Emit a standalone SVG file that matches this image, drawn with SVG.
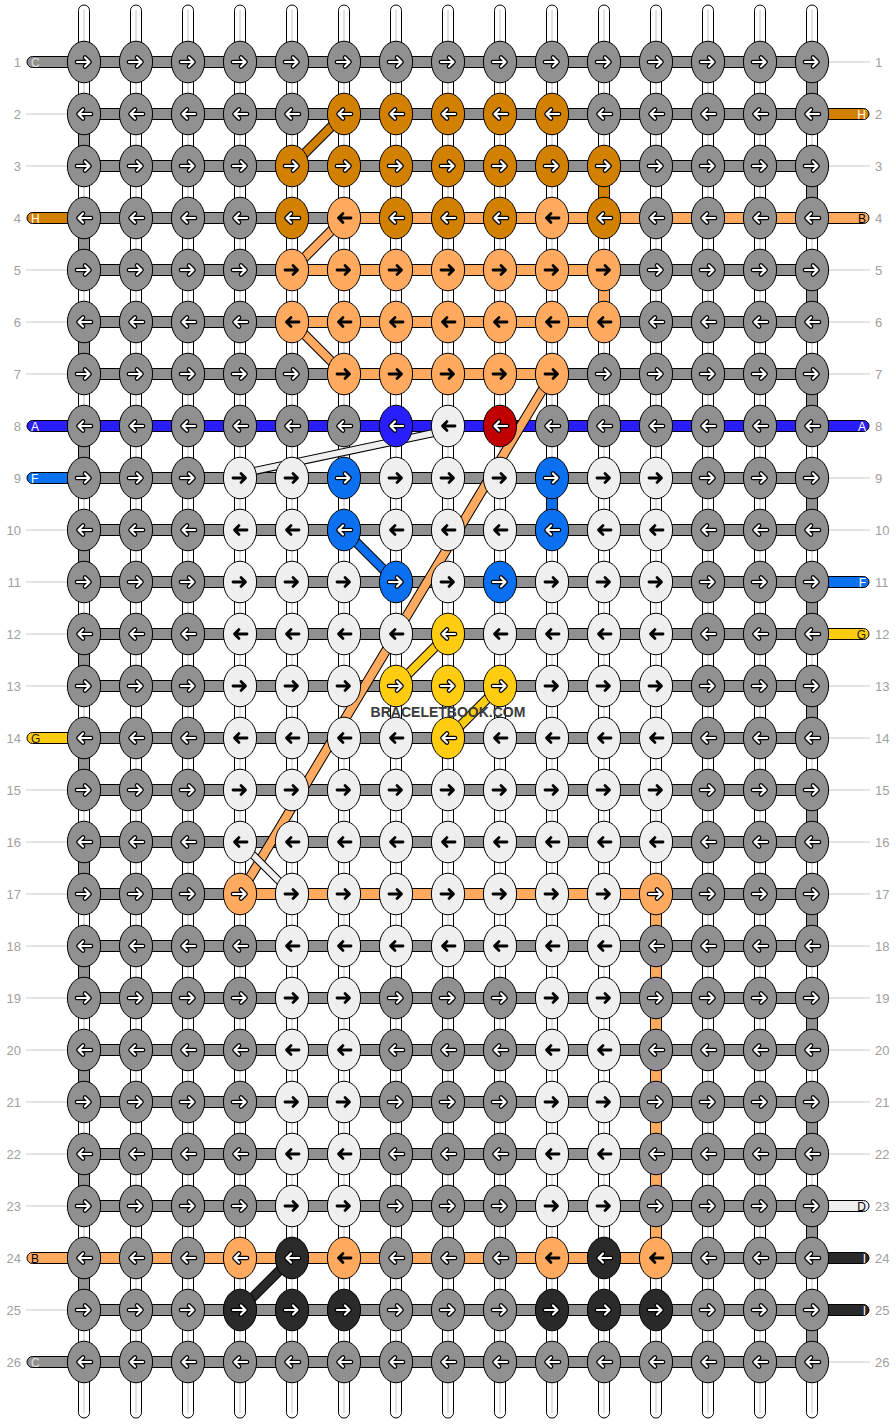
<svg xmlns="http://www.w3.org/2000/svg" xmlns:xlink="http://www.w3.org/1999/xlink" width="896" height="1424" viewBox="0 0 896 1424">
<style>
.ws{fill:#fff;stroke:#000;stroke-width:1}
.wc{stroke:#c4c4c4;stroke-width:1;fill:none}
.br{stroke:#000;stroke-width:1}
.cg{fill:#909090}.co{fill:#d28000}.cl{fill:#ffaa5f}.cA{fill:#281eff}.cF{fill:#0a70f0}.cR{fill:#c00000}.cY{fill:#ffcc10}.cw{fill:#efefef}.ck{fill:#2a2a2a}
.tl{stroke:#c8c8c8;stroke-width:1}
.num{font-family:"Liberation Sans",Arial,sans-serif;font-size:13px;fill:#a0a0a0}
.lab{font-family:"Liberation Sans",Arial,sans-serif;font-size:12px}
.d1{stroke:#000;stroke-width:10;fill:none}
.d2{stroke-width:8;fill:none}
.e1{stroke:#000;stroke-width:8;fill:none}
.e2{stroke-width:6;fill:none}
</style>
<defs>
<path id="pR" d="M-7,0H5.5M1,-4.5L5.5,0L1,4.5"/>
<path id="pL" d="M7,0H-5.5M-1,-4.5L-5.5,0L-1,4.5"/>
<g id="aRw" fill="none" stroke-linecap="round" stroke-linejoin="round"><use href="#pR" stroke="#000" stroke-width="4.6"/><use href="#pR" stroke="#fff" stroke-width="2.2"/></g>
<g id="aLw" fill="none" stroke-linecap="round" stroke-linejoin="round"><use href="#pL" stroke="#000" stroke-width="4.6"/><use href="#pL" stroke="#fff" stroke-width="2.2"/></g>
<g id="aRb" fill="none" stroke="#000" stroke-width="2.8" stroke-linecap="round" stroke-linejoin="round"><use href="#pR"/></g>
<g id="aLb" fill="none" stroke="#000" stroke-width="2.8" stroke-linecap="round" stroke-linejoin="round"><use href="#pL"/></g>
<ellipse id="eg" rx="16.6" ry="20.8" fill="#909090" stroke="#000"/>
<ellipse id="eo" rx="16.6" ry="20.8" fill="#d28000" stroke="#000"/>
<ellipse id="el" rx="16.6" ry="20.8" fill="#ffaa5f" stroke="#000"/>
<ellipse id="eA" rx="16.6" ry="20.8" fill="#281eff" stroke="#000"/>
<ellipse id="eF" rx="16.6" ry="20.8" fill="#0a70f0" stroke="#000"/>
<ellipse id="eR" rx="16.6" ry="20.8" fill="#c00000" stroke="#000"/>
<ellipse id="eY" rx="16.6" ry="20.8" fill="#ffcc10" stroke="#000"/>
<ellipse id="ew" rx="16.6" ry="20.8" fill="#efefef" stroke="#000"/>
<ellipse id="ek" rx="16.6" ry="20.8" fill="#2a2a2a" stroke="#000"/>
<g id="gR"><use href="#eg"/><use href="#aRw"/></g>
<g id="gL"><use href="#eg"/><use href="#aLw"/></g>
<g id="oR"><use href="#eo"/><use href="#aRw"/></g>
<g id="oL"><use href="#eo"/><use href="#aLw"/></g>
<g id="lR"><use href="#el"/><use href="#aRb"/></g>
<g id="lL"><use href="#el"/><use href="#aLb"/></g>
<g id="lRw"><use href="#el"/><use href="#aRw"/></g>
<g id="lLw"><use href="#el"/><use href="#aLw"/></g>
<g id="AL"><use href="#eA"/><use href="#aLw"/></g>
<g id="RL"><use href="#eR"/><use href="#aLw"/></g>
<g id="FR"><use href="#eF"/><use href="#aRw"/></g>
<g id="FL"><use href="#eF"/><use href="#aLw"/></g>
<g id="YR"><use href="#eY"/><use href="#aRw"/></g>
<g id="YL"><use href="#eY"/><use href="#aLw"/></g>
<g id="wR"><use href="#ew"/><use href="#aRb"/></g>
<g id="wL"><use href="#ew"/><use href="#aLb"/></g>
<g id="kR"><use href="#ek"/><use href="#aRw"/></g>
<g id="kL"><use href="#ek"/><use href="#aLw"/></g>
</defs>
<rect width="896" height="1424" fill="#fff"/>

<g id="labels">
<g class="num" text-anchor="end">
<text x="21" y="66.5">1</text><text x="21" y="118.5">2</text><text x="21" y="170.5">3</text><text x="21" y="222.5">4</text><text x="21" y="274.5">5</text><text x="21" y="326.5">6</text><text x="21" y="378.5">7</text><text x="21" y="430.5">8</text><text x="21" y="482.5">9</text><text x="21" y="534.5">10</text><text x="21" y="586.5">11</text><text x="21" y="638.5">12</text><text x="21" y="690.5">13</text><text x="21" y="742.5">14</text><text x="21" y="794.5">15</text><text x="21" y="846.5">16</text><text x="21" y="898.5">17</text><text x="21" y="950.5">18</text><text x="21" y="1002.5">19</text><text x="21" y="1054.5">20</text><text x="21" y="1106.5">21</text><text x="21" y="1158.5">22</text><text x="21" y="1210.5">23</text><text x="21" y="1262.5">24</text><text x="21" y="1314.5">25</text><text x="21" y="1366.5">26</text>
</g>
<g class="num">
<text x="875" y="66.5">1</text><text x="875" y="118.5">2</text><text x="875" y="170.5">3</text><text x="875" y="222.5">4</text><text x="875" y="274.5">5</text><text x="875" y="326.5">6</text><text x="875" y="378.5">7</text><text x="875" y="430.5">8</text><text x="875" y="482.5">9</text><text x="875" y="534.5">10</text><text x="875" y="586.5">11</text><text x="875" y="638.5">12</text><text x="875" y="690.5">13</text><text x="875" y="742.5">14</text><text x="875" y="794.5">15</text><text x="875" y="846.5">16</text><text x="875" y="898.5">17</text><text x="875" y="950.5">18</text><text x="875" y="1002.5">19</text><text x="875" y="1054.5">20</text><text x="875" y="1106.5">21</text><text x="875" y="1158.5">22</text><text x="875" y="1210.5">23</text><text x="875" y="1262.5">24</text><text x="875" y="1314.5">25</text><text x="875" y="1366.5">26</text>
</g>
<path class="tl" d="M26,114H67M26,166H67M26,270H67M26,322H67M26,374H67M26,530H67M26,582H67M26,634H67M26,686H67M26,790H67M26,842H67M26,894H67M26,946H67M26,998H67M26,1050H67M26,1102H67M26,1154H67M26,1206H67M26,1310H67"/>
<path class="tl" d="M829,62H870M829,166H870M829,270H870M829,322H870M829,374H870M829,478H870M829,530H870M829,686H870M829,738H870M829,790H870M829,842H870M829,894H870M829,946H870M829,998H870M829,1050H870M829,1102H870M829,1154H870M829,1362H870"/>
</g>

<g id="connectors">
<g id="warp">
<rect class="ws" x="78.5" y="5" width="11" height="1413" rx="5.5"/><rect class="ws" x="130.5" y="5" width="11" height="1413" rx="5.5"/><rect class="ws" x="182.5" y="5" width="11" height="1413" rx="5.5"/><rect class="ws" x="234.5" y="5" width="11" height="1413" rx="5.5"/><rect class="ws" x="286.5" y="5" width="11" height="1413" rx="5.5"/><rect class="ws" x="338.5" y="5" width="11" height="1413" rx="5.5"/><rect class="ws" x="390.5" y="5" width="11" height="1413" rx="5.5"/><rect class="ws" x="442.5" y="5" width="11" height="1413" rx="5.5"/><rect class="ws" x="494.5" y="5" width="11" height="1413" rx="5.5"/><rect class="ws" x="546.5" y="5" width="11" height="1413" rx="5.5"/><rect class="ws" x="598.5" y="5" width="11" height="1413" rx="5.5"/><rect class="ws" x="650.5" y="5" width="11" height="1413" rx="5.5"/><rect class="ws" x="702.5" y="5" width="11" height="1413" rx="5.5"/><rect class="ws" x="754.5" y="5" width="11" height="1413" rx="5.5"/><rect class="ws" x="806.5" y="5" width="11" height="1413" rx="5.5"/>
<path class="wc" d="M84,10V1413M136,10V1413M188,10V1413M240,10V1413M292,10V1413M344,10V1413M396,10V1413M448,10V1413M500,10V1413M552,10V1413M604,10V1413M656,10V1413M708,10V1413M760,10V1413M812,10V1413"/>
</g>
<g id="verticals" class="br">
<path class="cg" d="M78.5,114h11v52h-11zM78.5,218h11v52h-11zM78.5,322h11v52h-11zM78.5,426h11v52h-11zM78.5,530h11v52h-11zM78.5,634h11v52h-11zM78.5,738h11v52h-11zM78.5,842h11v52h-11zM78.5,946h11v52h-11zM78.5,1050h11v52h-11zM78.5,1154h11v52h-11zM78.5,1258h11v52h-11z"/>
<path class="cg" d="M806.5,62h11v52h-11zM806.5,166h11v52h-11zM806.5,270h11v52h-11zM806.5,374h11v52h-11zM806.5,478h11v52h-11zM806.5,582h11v52h-11zM806.5,686h11v52h-11zM806.5,790h11v52h-11zM806.5,894h11v52h-11zM806.5,998h11v52h-11zM806.5,1102h11v52h-11zM806.5,1206h11v52h-11zM806.5,1310h11v52h-11z"/>
<rect class="co" x="598.5" y="166" width="11" height="52"/>
<rect class="cl" x="598.5" y="270" width="11" height="52"/>
<rect class="cF" x="546.5" y="478" width="11" height="52"/>
<rect class="cl" x="650.5" y="894" width="11" height="364"/>
</g>
<g id="bars" class="br">
<rect class="cg" x="84" y="56.5" width="728" height="11"/><rect class="cg" x="84" y="108.5" width="728" height="11"/><rect class="cg" x="84" y="160.5" width="728" height="11"/><rect class="cg" x="84" y="212.5" width="728" height="11"/><rect class="cg" x="84" y="264.5" width="728" height="11"/><rect class="cg" x="84" y="316.5" width="728" height="11"/><rect class="cg" x="84" y="368.5" width="728" height="11"/><rect class="cA" x="84" y="420.5" width="728" height="11"/><rect class="cg" x="84" y="472.5" width="728" height="11"/><rect class="cg" x="84" y="524.5" width="728" height="11"/><rect class="cg" x="84" y="576.5" width="728" height="11"/><rect class="cg" x="84" y="628.5" width="728" height="11"/><rect class="cg" x="84" y="680.5" width="728" height="11"/><rect class="cg" x="84" y="732.5" width="728" height="11"/><rect class="cg" x="84" y="784.5" width="728" height="11"/><rect class="cg" x="84" y="836.5" width="728" height="11"/><rect class="cg" x="84" y="888.5" width="728" height="11"/><rect class="cg" x="84" y="940.5" width="728" height="11"/><rect class="cg" x="84" y="992.5" width="728" height="11"/><rect class="cg" x="84" y="1044.5" width="728" height="11"/><rect class="cg" x="84" y="1096.5" width="728" height="11"/><rect class="cg" x="84" y="1148.5" width="728" height="11"/><rect class="cg" x="84" y="1200.5" width="728" height="11"/><rect class="cg" x="84" y="1252.5" width="728" height="11"/><rect class="cg" x="84" y="1304.5" width="728" height="11"/><rect class="cg" x="84" y="1356.5" width="728" height="11"/>
<rect class="cl" x="344" y="212.5" width="468" height="11"/>
<rect class="cl" x="292" y="264.5" width="312" height="11"/>
<rect class="cl" x="292" y="316.5" width="312" height="11"/>
<rect class="cl" x="344" y="368.5" width="208" height="11"/>
<rect class="cl" x="240" y="888.5" width="416" height="11"/>
<rect class="cl" x="84" y="1252.5" width="572" height="11"/>
</g>
<g id="ends" class="br">
<rect class="cg" x="27" y="56.5" width="60" height="11" rx="5.5"/>
<rect class="co" x="27" y="212.5" width="60" height="11" rx="5.5"/>
<rect class="cA" x="27" y="420.5" width="60" height="11" rx="5.5"/>
<rect class="cF" x="27" y="472.5" width="60" height="11" rx="5.5"/>
<rect class="cY" x="27" y="732.5" width="60" height="11" rx="5.5"/>
<rect class="cl" x="27" y="1252.5" width="60" height="11" rx="5.5"/>
<rect class="cg" x="27" y="1356.5" width="60" height="11" rx="5.5"/>
<rect class="co" x="809" y="108.5" width="60" height="11" rx="5.5"/>
<rect class="cl" x="809" y="212.5" width="60" height="11" rx="5.5"/>
<rect class="cA" x="809" y="420.5" width="60" height="11" rx="5.5"/>
<rect class="cF" x="809" y="576.5" width="60" height="11" rx="5.5"/>
<rect class="cY" x="809" y="628.5" width="60" height="11" rx="5.5"/>
<rect class="cw" x="809" y="1200.5" width="60" height="11" rx="5.5"/>
<rect class="ck" x="809" y="1252.5" width="60" height="11" rx="5.5"/>
<rect class="ck" x="809" y="1304.5" width="60" height="11" rx="5.5"/>
</g>
<g id="diagonals">
<path class="d1" d="M344,114L292,166M344,218L292,270M292,322L344,374M552,374L240,894M344,530L396,582M448,634L396,686M500,686L448,738M292,1258L240,1310"/>
<path class="d2" stroke="#d28000" d="M344,114L292,166"/>
<path class="d2" stroke="#ffaa5f" d="M344,218L292,270M292,322L344,374M552,374L240,894"/>
<path class="d2" stroke="#0a70f0" d="M344,530L396,582"/>
<path class="d2" stroke="#ffcc10" d="M448,634L396,686M500,686L448,738"/>
<path class="d2" stroke="#2a2a2a" d="M292,1258L240,1310"/>
<path class="e1" d="M448,430L240,474M240,842L292,894"/>
<path class="e2" stroke="#efefef" d="M448,430L240,474M240,842L292,894"/>
</g>
<g id="endlabels" class="lab">
<text x="31" y="66.5" fill="#e0e0e0">C</text>
<text x="31" y="222.5" fill="#fff">H</text>
<text x="31" y="430.5" fill="#fff">A</text>
<text x="31" y="482.5" fill="#fff">F</text>
<text x="31" y="742.5" fill="#222">G</text>
<text x="31" y="1262.5" fill="#000">B</text>
<text x="31" y="1366.5" fill="#e0e0e0">C</text>
<g text-anchor="end">
<text x="866" y="118.5" fill="#fff">H</text>
<text x="866" y="222.5" fill="#000">B</text>
<text x="866" y="430.5" fill="#fff">A</text>
<text x="866" y="586.5" fill="#fff">F</text>
<text x="866" y="638.5" fill="#222">G</text>
<text x="866" y="1210.5" fill="#000">D</text>
<text x="866" y="1262.5" fill="#fff">I</text>
<text x="866" y="1314.5" fill="#fff">I</text>
</g>
</g>
</g>

<g id="knots">
<g id="row1" transform="translate(0,62)">
<g id="n1-0"><use href="#gR" x="84"/></g><g id="n1-1"><use href="#gR" x="136"/></g><g id="n1-2"><use href="#gR" x="188"/></g><g id="n1-3"><use href="#gR" x="240"/></g><g id="n1-4"><use href="#gR" x="292"/></g><g id="n1-5"><use href="#gR" x="344"/></g><g id="n1-6"><use href="#gR" x="396"/></g><g id="n1-7"><use href="#gR" x="448"/></g><g id="n1-8"><use href="#gR" x="500"/></g><g id="n1-9"><use href="#gR" x="552"/></g><g id="n1-10"><use href="#gR" x="604"/></g><g id="n1-11"><use href="#gR" x="656"/></g><g id="n1-12"><use href="#gR" x="708"/></g><g id="n1-13"><use href="#gR" x="760"/></g><g id="n1-14"><use href="#gR" x="812"/></g>
</g>
<g id="row2" transform="translate(0,114)">
<g id="n2-0"><use href="#gL" x="84"/></g><g id="n2-1"><use href="#gL" x="136"/></g><g id="n2-2"><use href="#gL" x="188"/></g><g id="n2-3"><use href="#gL" x="240"/></g><g id="n2-4"><use href="#gL" x="292"/></g><g id="n2-5"><use href="#oL" x="344"/></g><g id="n2-6"><use href="#oL" x="396"/></g><g id="n2-7"><use href="#oL" x="448"/></g><g id="n2-8"><use href="#oL" x="500"/></g><g id="n2-9"><use href="#oL" x="552"/></g><g id="n2-10"><use href="#gL" x="604"/></g><g id="n2-11"><use href="#gL" x="656"/></g><g id="n2-12"><use href="#gL" x="708"/></g><g id="n2-13"><use href="#gL" x="760"/></g><g id="n2-14"><use href="#gL" x="812"/></g>
</g>
<g id="row3" transform="translate(0,166)">
<g id="n3-0"><use href="#gR" x="84"/></g><g id="n3-1"><use href="#gR" x="136"/></g><g id="n3-2"><use href="#gR" x="188"/></g><g id="n3-3"><use href="#gR" x="240"/></g><g id="n3-4"><use href="#oR" x="292"/></g><g id="n3-5"><use href="#oR" x="344"/></g><g id="n3-6"><use href="#oR" x="396"/></g><g id="n3-7"><use href="#oR" x="448"/></g><g id="n3-8"><use href="#oR" x="500"/></g><g id="n3-9"><use href="#oR" x="552"/></g><g id="n3-10"><use href="#oR" x="604"/></g><g id="n3-11"><use href="#gR" x="656"/></g><g id="n3-12"><use href="#gR" x="708"/></g><g id="n3-13"><use href="#gR" x="760"/></g><g id="n3-14"><use href="#gR" x="812"/></g>
</g>
<g id="row4" transform="translate(0,218)">
<g id="n4-0"><use href="#gL" x="84"/></g><g id="n4-1"><use href="#gL" x="136"/></g><g id="n4-2"><use href="#gL" x="188"/></g><g id="n4-3"><use href="#gL" x="240"/></g><g id="n4-4"><use href="#oL" x="292"/></g><g id="n4-5"><use href="#lL" x="344"/></g><g id="n4-6"><use href="#oL" x="396"/></g><g id="n4-7"><use href="#oL" x="448"/></g><g id="n4-8"><use href="#oL" x="500"/></g><g id="n4-9"><use href="#lL" x="552"/></g><g id="n4-10"><use href="#oL" x="604"/></g><g id="n4-11"><use href="#gL" x="656"/></g><g id="n4-12"><use href="#gL" x="708"/></g><g id="n4-13"><use href="#gL" x="760"/></g><g id="n4-14"><use href="#gL" x="812"/></g>
</g>
<g id="row5" transform="translate(0,270)">
<g id="n5-0"><use href="#gR" x="84"/></g><g id="n5-1"><use href="#gR" x="136"/></g><g id="n5-2"><use href="#gR" x="188"/></g><g id="n5-3"><use href="#gR" x="240"/></g><g id="n5-4"><use href="#lR" x="292"/></g><g id="n5-5"><use href="#lR" x="344"/></g><g id="n5-6"><use href="#lR" x="396"/></g><g id="n5-7"><use href="#lR" x="448"/></g><g id="n5-8"><use href="#lR" x="500"/></g><g id="n5-9"><use href="#lR" x="552"/></g><g id="n5-10"><use href="#lR" x="604"/></g><g id="n5-11"><use href="#gR" x="656"/></g><g id="n5-12"><use href="#gR" x="708"/></g><g id="n5-13"><use href="#gR" x="760"/></g><g id="n5-14"><use href="#gR" x="812"/></g>
</g>
<g id="row6" transform="translate(0,322)">
<g id="n6-0"><use href="#gL" x="84"/></g><g id="n6-1"><use href="#gL" x="136"/></g><g id="n6-2"><use href="#gL" x="188"/></g><g id="n6-3"><use href="#gL" x="240"/></g><g id="n6-4"><use href="#lL" x="292"/></g><g id="n6-5"><use href="#lL" x="344"/></g><g id="n6-6"><use href="#lL" x="396"/></g><g id="n6-7"><use href="#lL" x="448"/></g><g id="n6-8"><use href="#lL" x="500"/></g><g id="n6-9"><use href="#lL" x="552"/></g><g id="n6-10"><use href="#lL" x="604"/></g><g id="n6-11"><use href="#gL" x="656"/></g><g id="n6-12"><use href="#gL" x="708"/></g><g id="n6-13"><use href="#gL" x="760"/></g><g id="n6-14"><use href="#gL" x="812"/></g>
</g>
<g id="row7" transform="translate(0,374)">
<g id="n7-0"><use href="#gR" x="84"/></g><g id="n7-1"><use href="#gR" x="136"/></g><g id="n7-2"><use href="#gR" x="188"/></g><g id="n7-3"><use href="#gR" x="240"/></g><g id="n7-4"><use href="#gR" x="292"/></g><g id="n7-5"><use href="#lR" x="344"/></g><g id="n7-6"><use href="#lR" x="396"/></g><g id="n7-7"><use href="#lR" x="448"/></g><g id="n7-8"><use href="#lR" x="500"/></g><g id="n7-9"><use href="#lR" x="552"/></g><g id="n7-10"><use href="#gR" x="604"/></g><g id="n7-11"><use href="#gR" x="656"/></g><g id="n7-12"><use href="#gR" x="708"/></g><g id="n7-13"><use href="#gR" x="760"/></g><g id="n7-14"><use href="#gR" x="812"/></g>
</g>
<g id="row8" transform="translate(0,426)">
<g id="n8-0"><use href="#gL" x="84"/></g><g id="n8-1"><use href="#gL" x="136"/></g><g id="n8-2"><use href="#gL" x="188"/></g><g id="n8-3"><use href="#gL" x="240"/></g><g id="n8-4"><use href="#gL" x="292"/></g><g id="n8-5"><use href="#gL" x="344"/></g><g id="n8-6"><use href="#AL" x="396"/></g><g id="n8-7"><use href="#wL" x="448"/></g><g id="n8-8"><use href="#RL" x="500"/></g><g id="n8-9"><use href="#gL" x="552"/></g><g id="n8-10"><use href="#gL" x="604"/></g><g id="n8-11"><use href="#gL" x="656"/></g><g id="n8-12"><use href="#gL" x="708"/></g><g id="n8-13"><use href="#gL" x="760"/></g><g id="n8-14"><use href="#gL" x="812"/></g>
</g>
<g id="row9" transform="translate(0,478)">
<g id="n9-0"><use href="#gR" x="84"/></g><g id="n9-1"><use href="#gR" x="136"/></g><g id="n9-2"><use href="#gR" x="188"/></g><g id="n9-3"><use href="#wR" x="240"/></g><g id="n9-4"><use href="#wR" x="292"/></g><g id="n9-5"><use href="#FR" x="344"/></g><g id="n9-6"><use href="#wR" x="396"/></g><g id="n9-7"><use href="#wR" x="448"/></g><g id="n9-8"><use href="#wR" x="500"/></g><g id="n9-9"><use href="#FR" x="552"/></g><g id="n9-10"><use href="#wR" x="604"/></g><g id="n9-11"><use href="#wR" x="656"/></g><g id="n9-12"><use href="#gR" x="708"/></g><g id="n9-13"><use href="#gR" x="760"/></g><g id="n9-14"><use href="#gR" x="812"/></g>
</g>
<g id="row10" transform="translate(0,530)">
<g id="n10-0"><use href="#gL" x="84"/></g><g id="n10-1"><use href="#gL" x="136"/></g><g id="n10-2"><use href="#gL" x="188"/></g><g id="n10-3"><use href="#wL" x="240"/></g><g id="n10-4"><use href="#wL" x="292"/></g><g id="n10-5"><use href="#FL" x="344"/></g><g id="n10-6"><use href="#wL" x="396"/></g><g id="n10-7"><use href="#wL" x="448"/></g><g id="n10-8"><use href="#wL" x="500"/></g><g id="n10-9"><use href="#FL" x="552"/></g><g id="n10-10"><use href="#wL" x="604"/></g><g id="n10-11"><use href="#wL" x="656"/></g><g id="n10-12"><use href="#gL" x="708"/></g><g id="n10-13"><use href="#gL" x="760"/></g><g id="n10-14"><use href="#gL" x="812"/></g>
</g>
<g id="row11" transform="translate(0,582)">
<g id="n11-0"><use href="#gR" x="84"/></g><g id="n11-1"><use href="#gR" x="136"/></g><g id="n11-2"><use href="#gR" x="188"/></g><g id="n11-3"><use href="#wR" x="240"/></g><g id="n11-4"><use href="#wR" x="292"/></g><g id="n11-5"><use href="#wR" x="344"/></g><g id="n11-6"><use href="#FR" x="396"/></g><g id="n11-7"><use href="#wR" x="448"/></g><g id="n11-8"><use href="#FR" x="500"/></g><g id="n11-9"><use href="#wR" x="552"/></g><g id="n11-10"><use href="#wR" x="604"/></g><g id="n11-11"><use href="#wR" x="656"/></g><g id="n11-12"><use href="#gR" x="708"/></g><g id="n11-13"><use href="#gR" x="760"/></g><g id="n11-14"><use href="#gR" x="812"/></g>
</g>
<g id="row12" transform="translate(0,634)">
<g id="n12-0"><use href="#gL" x="84"/></g><g id="n12-1"><use href="#gL" x="136"/></g><g id="n12-2"><use href="#gL" x="188"/></g><g id="n12-3"><use href="#wL" x="240"/></g><g id="n12-4"><use href="#wL" x="292"/></g><g id="n12-5"><use href="#wL" x="344"/></g><g id="n12-6"><use href="#wL" x="396"/></g><g id="n12-7"><use href="#YL" x="448"/></g><g id="n12-8"><use href="#wL" x="500"/></g><g id="n12-9"><use href="#wL" x="552"/></g><g id="n12-10"><use href="#wL" x="604"/></g><g id="n12-11"><use href="#wL" x="656"/></g><g id="n12-12"><use href="#gL" x="708"/></g><g id="n12-13"><use href="#gL" x="760"/></g><g id="n12-14"><use href="#gL" x="812"/></g>
</g>
<g id="row13" transform="translate(0,686)">
<g id="n13-0"><use href="#gR" x="84"/></g><g id="n13-1"><use href="#gR" x="136"/></g><g id="n13-2"><use href="#gR" x="188"/></g><g id="n13-3"><use href="#wR" x="240"/></g><g id="n13-4"><use href="#wR" x="292"/></g><g id="n13-5"><use href="#wR" x="344"/></g><g id="n13-6"><use href="#YR" x="396"/></g><g id="n13-7"><use href="#YR" x="448"/></g><g id="n13-8"><use href="#YR" x="500"/></g><g id="n13-9"><use href="#wR" x="552"/></g><g id="n13-10"><use href="#wR" x="604"/></g><g id="n13-11"><use href="#wR" x="656"/></g><g id="n13-12"><use href="#gR" x="708"/></g><g id="n13-13"><use href="#gR" x="760"/></g><g id="n13-14"><use href="#gR" x="812"/></g>
</g>
<g id="row14" transform="translate(0,738)">
<g id="n14-0"><use href="#gL" x="84"/></g><g id="n14-1"><use href="#gL" x="136"/></g><g id="n14-2"><use href="#gL" x="188"/></g><g id="n14-3"><use href="#wL" x="240"/></g><g id="n14-4"><use href="#wL" x="292"/></g><g id="n14-5"><use href="#wL" x="344"/></g><g id="n14-6"><use href="#wL" x="396"/></g><g id="n14-7"><use href="#YL" x="448"/></g><g id="n14-8"><use href="#wL" x="500"/></g><g id="n14-9"><use href="#wL" x="552"/></g><g id="n14-10"><use href="#wL" x="604"/></g><g id="n14-11"><use href="#wL" x="656"/></g><g id="n14-12"><use href="#gL" x="708"/></g><g id="n14-13"><use href="#gL" x="760"/></g><g id="n14-14"><use href="#gL" x="812"/></g>
</g>
<g id="row15" transform="translate(0,790)">
<g id="n15-0"><use href="#gR" x="84"/></g><g id="n15-1"><use href="#gR" x="136"/></g><g id="n15-2"><use href="#gR" x="188"/></g><g id="n15-3"><use href="#wR" x="240"/></g><g id="n15-4"><use href="#wR" x="292"/></g><g id="n15-5"><use href="#wR" x="344"/></g><g id="n15-6"><use href="#wR" x="396"/></g><g id="n15-7"><use href="#wR" x="448"/></g><g id="n15-8"><use href="#wR" x="500"/></g><g id="n15-9"><use href="#wR" x="552"/></g><g id="n15-10"><use href="#wR" x="604"/></g><g id="n15-11"><use href="#wR" x="656"/></g><g id="n15-12"><use href="#gR" x="708"/></g><g id="n15-13"><use href="#gR" x="760"/></g><g id="n15-14"><use href="#gR" x="812"/></g>
</g>
<g id="row16" transform="translate(0,842)">
<g id="n16-0"><use href="#gL" x="84"/></g><g id="n16-1"><use href="#gL" x="136"/></g><g id="n16-2"><use href="#gL" x="188"/></g><g id="n16-3"><use href="#wL" x="240"/></g><g id="n16-4"><use href="#wL" x="292"/></g><g id="n16-5"><use href="#wL" x="344"/></g><g id="n16-6"><use href="#wL" x="396"/></g><g id="n16-7"><use href="#wL" x="448"/></g><g id="n16-8"><use href="#wL" x="500"/></g><g id="n16-9"><use href="#wL" x="552"/></g><g id="n16-10"><use href="#wL" x="604"/></g><g id="n16-11"><use href="#wL" x="656"/></g><g id="n16-12"><use href="#gL" x="708"/></g><g id="n16-13"><use href="#gL" x="760"/></g><g id="n16-14"><use href="#gL" x="812"/></g>
</g>
<g id="row17" transform="translate(0,894)">
<g id="n17-0"><use href="#gR" x="84"/></g><g id="n17-1"><use href="#gR" x="136"/></g><g id="n17-2"><use href="#gR" x="188"/></g><g id="n17-3"><use href="#lRw" x="240"/></g><g id="n17-4"><use href="#wR" x="292"/></g><g id="n17-5"><use href="#wR" x="344"/></g><g id="n17-6"><use href="#wR" x="396"/></g><g id="n17-7"><use href="#wR" x="448"/></g><g id="n17-8"><use href="#wR" x="500"/></g><g id="n17-9"><use href="#wR" x="552"/></g><g id="n17-10"><use href="#wR" x="604"/></g><g id="n17-11"><use href="#lRw" x="656"/></g><g id="n17-12"><use href="#gR" x="708"/></g><g id="n17-13"><use href="#gR" x="760"/></g><g id="n17-14"><use href="#gR" x="812"/></g>
</g>
<g id="row18" transform="translate(0,946)">
<g id="n18-0"><use href="#gL" x="84"/></g><g id="n18-1"><use href="#gL" x="136"/></g><g id="n18-2"><use href="#gL" x="188"/></g><g id="n18-3"><use href="#gL" x="240"/></g><g id="n18-4"><use href="#wL" x="292"/></g><g id="n18-5"><use href="#wL" x="344"/></g><g id="n18-6"><use href="#wL" x="396"/></g><g id="n18-7"><use href="#wL" x="448"/></g><g id="n18-8"><use href="#wL" x="500"/></g><g id="n18-9"><use href="#wL" x="552"/></g><g id="n18-10"><use href="#wL" x="604"/></g><g id="n18-11"><use href="#gL" x="656"/></g><g id="n18-12"><use href="#gL" x="708"/></g><g id="n18-13"><use href="#gL" x="760"/></g><g id="n18-14"><use href="#gL" x="812"/></g>
</g>
<g id="row19" transform="translate(0,998)">
<g id="n19-0"><use href="#gR" x="84"/></g><g id="n19-1"><use href="#gR" x="136"/></g><g id="n19-2"><use href="#gR" x="188"/></g><g id="n19-3"><use href="#gR" x="240"/></g><g id="n19-4"><use href="#wR" x="292"/></g><g id="n19-5"><use href="#wR" x="344"/></g><g id="n19-6"><use href="#gR" x="396"/></g><g id="n19-7"><use href="#gR" x="448"/></g><g id="n19-8"><use href="#gR" x="500"/></g><g id="n19-9"><use href="#wR" x="552"/></g><g id="n19-10"><use href="#wR" x="604"/></g><g id="n19-11"><use href="#gR" x="656"/></g><g id="n19-12"><use href="#gR" x="708"/></g><g id="n19-13"><use href="#gR" x="760"/></g><g id="n19-14"><use href="#gR" x="812"/></g>
</g>
<g id="row20" transform="translate(0,1050)">
<g id="n20-0"><use href="#gL" x="84"/></g><g id="n20-1"><use href="#gL" x="136"/></g><g id="n20-2"><use href="#gL" x="188"/></g><g id="n20-3"><use href="#gL" x="240"/></g><g id="n20-4"><use href="#wL" x="292"/></g><g id="n20-5"><use href="#wL" x="344"/></g><g id="n20-6"><use href="#gL" x="396"/></g><g id="n20-7"><use href="#gL" x="448"/></g><g id="n20-8"><use href="#gL" x="500"/></g><g id="n20-9"><use href="#wL" x="552"/></g><g id="n20-10"><use href="#wL" x="604"/></g><g id="n20-11"><use href="#gL" x="656"/></g><g id="n20-12"><use href="#gL" x="708"/></g><g id="n20-13"><use href="#gL" x="760"/></g><g id="n20-14"><use href="#gL" x="812"/></g>
</g>
<g id="row21" transform="translate(0,1102)">
<g id="n21-0"><use href="#gR" x="84"/></g><g id="n21-1"><use href="#gR" x="136"/></g><g id="n21-2"><use href="#gR" x="188"/></g><g id="n21-3"><use href="#gR" x="240"/></g><g id="n21-4"><use href="#wR" x="292"/></g><g id="n21-5"><use href="#wR" x="344"/></g><g id="n21-6"><use href="#gR" x="396"/></g><g id="n21-7"><use href="#gR" x="448"/></g><g id="n21-8"><use href="#gR" x="500"/></g><g id="n21-9"><use href="#wR" x="552"/></g><g id="n21-10"><use href="#wR" x="604"/></g><g id="n21-11"><use href="#gR" x="656"/></g><g id="n21-12"><use href="#gR" x="708"/></g><g id="n21-13"><use href="#gR" x="760"/></g><g id="n21-14"><use href="#gR" x="812"/></g>
</g>
<g id="row22" transform="translate(0,1154)">
<g id="n22-0"><use href="#gL" x="84"/></g><g id="n22-1"><use href="#gL" x="136"/></g><g id="n22-2"><use href="#gL" x="188"/></g><g id="n22-3"><use href="#gL" x="240"/></g><g id="n22-4"><use href="#wL" x="292"/></g><g id="n22-5"><use href="#wL" x="344"/></g><g id="n22-6"><use href="#gL" x="396"/></g><g id="n22-7"><use href="#gL" x="448"/></g><g id="n22-8"><use href="#gL" x="500"/></g><g id="n22-9"><use href="#wL" x="552"/></g><g id="n22-10"><use href="#wL" x="604"/></g><g id="n22-11"><use href="#gL" x="656"/></g><g id="n22-12"><use href="#gL" x="708"/></g><g id="n22-13"><use href="#gL" x="760"/></g><g id="n22-14"><use href="#gL" x="812"/></g>
</g>
<g id="row23" transform="translate(0,1206)">
<g id="n23-0"><use href="#gR" x="84"/></g><g id="n23-1"><use href="#gR" x="136"/></g><g id="n23-2"><use href="#gR" x="188"/></g><g id="n23-3"><use href="#gR" x="240"/></g><g id="n23-4"><use href="#wR" x="292"/></g><g id="n23-5"><use href="#wR" x="344"/></g><g id="n23-6"><use href="#gR" x="396"/></g><g id="n23-7"><use href="#gR" x="448"/></g><g id="n23-8"><use href="#gR" x="500"/></g><g id="n23-9"><use href="#wR" x="552"/></g><g id="n23-10"><use href="#wR" x="604"/></g><g id="n23-11"><use href="#gR" x="656"/></g><g id="n23-12"><use href="#gR" x="708"/></g><g id="n23-13"><use href="#gR" x="760"/></g><g id="n23-14"><use href="#gR" x="812"/></g>
</g>
<g id="row24" transform="translate(0,1258)">
<g id="n24-0"><use href="#gL" x="84"/></g><g id="n24-1"><use href="#gL" x="136"/></g><g id="n24-2"><use href="#gL" x="188"/></g><g id="n24-3"><use href="#lLw" x="240"/></g><g id="n24-4"><use href="#kL" x="292"/></g><g id="n24-5"><use href="#lL" x="344"/></g><g id="n24-6"><use href="#gL" x="396"/></g><g id="n24-7"><use href="#gL" x="448"/></g><g id="n24-8"><use href="#gL" x="500"/></g><g id="n24-9"><use href="#lL" x="552"/></g><g id="n24-10"><use href="#kL" x="604"/></g><g id="n24-11"><use href="#lL" x="656"/></g><g id="n24-12"><use href="#gL" x="708"/></g><g id="n24-13"><use href="#gL" x="760"/></g><g id="n24-14"><use href="#gL" x="812"/></g>
</g>
<g id="row25" transform="translate(0,1310)">
<g id="n25-0"><use href="#gR" x="84"/></g><g id="n25-1"><use href="#gR" x="136"/></g><g id="n25-2"><use href="#gR" x="188"/></g><g id="n25-3"><use href="#kR" x="240"/></g><g id="n25-4"><use href="#kR" x="292"/></g><g id="n25-5"><use href="#kR" x="344"/></g><g id="n25-6"><use href="#gR" x="396"/></g><g id="n25-7"><use href="#gR" x="448"/></g><g id="n25-8"><use href="#gR" x="500"/></g><g id="n25-9"><use href="#kR" x="552"/></g><g id="n25-10"><use href="#kR" x="604"/></g><g id="n25-11"><use href="#kR" x="656"/></g><g id="n25-12"><use href="#gR" x="708"/></g><g id="n25-13"><use href="#gR" x="760"/></g><g id="n25-14"><use href="#gR" x="812"/></g>
</g>
<g id="row26" transform="translate(0,1362)">
<g id="n26-0"><use href="#gL" x="84"/></g><g id="n26-1"><use href="#gL" x="136"/></g><g id="n26-2"><use href="#gL" x="188"/></g><g id="n26-3"><use href="#gL" x="240"/></g><g id="n26-4"><use href="#gL" x="292"/></g><g id="n26-5"><use href="#gL" x="344"/></g><g id="n26-6"><use href="#gL" x="396"/></g><g id="n26-7"><use href="#gL" x="448"/></g><g id="n26-8"><use href="#gL" x="500"/></g><g id="n26-9"><use href="#gL" x="552"/></g><g id="n26-10"><use href="#gL" x="604"/></g><g id="n26-11"><use href="#gL" x="656"/></g><g id="n26-12"><use href="#gL" x="708"/></g><g id="n26-13"><use href="#gL" x="760"/></g><g id="n26-14"><use href="#gL" x="812"/></g>
</g>
</g>

<text id="watermark" x="448" y="717" text-anchor="middle" font-family="'Liberation Sans',Arial,sans-serif" font-weight="bold" font-size="14" fill="#3a3a3a">BRACELETBOOK.COM</text>
</svg>
